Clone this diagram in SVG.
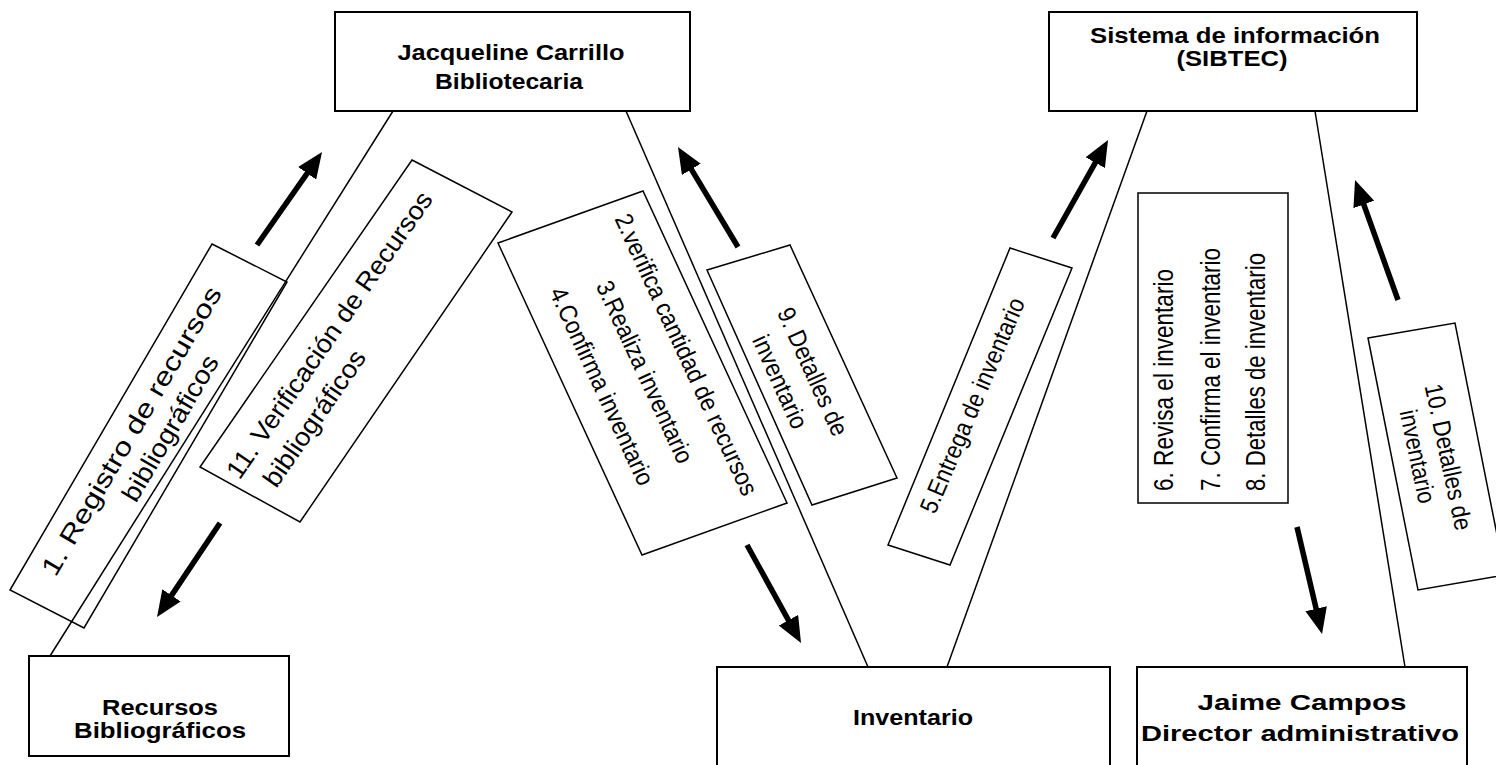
<svg xmlns="http://www.w3.org/2000/svg" width="1496" height="765" viewBox="0 0 1496 765">
  <defs>
    <style>
      .box{fill:#fff;stroke:#000;stroke-width:2}
      .tag{fill:#fff;stroke:#000;stroke-width:1.5}
      .wire{stroke:#000;stroke-width:1.5;fill:none}
      .flow{stroke:#000;stroke-width:5.5;fill:none;marker-end:url(#head)}
      .nt{font-family:"Liberation Sans",Arial,sans-serif;font-weight:bold;font-size:22px;text-anchor:middle;fill:#000}
      .lt{font-family:"Liberation Sans",Arial,sans-serif;text-anchor:middle;fill:#000}
      .st{text-anchor:start}
    </style>
    <marker id="head" viewBox="0 0 10 10" refX="4" refY="5" markerWidth="26" markerHeight="22" markerUnits="userSpaceOnUse" orient="auto" preserveAspectRatio="none">
      <path d="M0,0L10,5L0,10z" fill="#000"/>
    </marker>
  </defs>

  <rect width="1496" height="765" fill="#fff"/>

  <!-- nodes -->
  <g id="bibliotecaria">
    <rect class="box" x="335" y="12" width="355" height="99"/>
    <text class="nt" x="511" y="60" textLength="227" lengthAdjust="spacingAndGlyphs">Jacqueline Carrillo</text>
    <text class="nt" x="509" y="89" textLength="148" lengthAdjust="spacingAndGlyphs">Bibliotecaria</text>
  </g>
  <g id="sibtec">
    <rect class="box" x="1049" y="12" width="368" height="99"/>
    <text class="nt" x="1235" y="43" textLength="290" lengthAdjust="spacingAndGlyphs">Sistema de información</text>
    <text class="nt" x="1232" y="66" textLength="111" lengthAdjust="spacingAndGlyphs">(SIBTEC)</text>
  </g>
  <g id="recursos">
    <rect class="box" x="29" y="656" width="260" height="100"/>
    <text class="nt" x="160" y="715" textLength="116" lengthAdjust="spacingAndGlyphs">Recursos</text>
    <text class="nt" x="160" y="738" textLength="172" lengthAdjust="spacingAndGlyphs">Bibliográficos</text>
  </g>
  <g id="inventario">
    <rect class="box" x="717" y="667" width="393" height="110"/>
    <text class="nt" x="913" y="725" textLength="120" lengthAdjust="spacingAndGlyphs">Inventario</text>
  </g>
  <g id="director">
    <rect class="box" x="1137" y="667" width="330" height="110"/>
    <text class="nt" x="1302" y="710" textLength="209" lengthAdjust="spacingAndGlyphs">Jaime Campos</text>
    <text class="nt" x="1300" y="741" textLength="318" lengthAdjust="spacingAndGlyphs">Director administrativo</text>
  </g>

  <!-- message labels -->
  <g id="msg-registro">
    <polygon class="tag" points="212,244 287,282 84,628 10,590"/>
    <g transform="translate(148,436) rotate(-59.6)">
      <text class="lt" x="-4" y="-8" font-size="26" textLength="330" lengthAdjust="spacingAndGlyphs">1. Registro de recursos</text>
      <text class="lt" x="18" y="24" font-size="26" textLength="165" lengthAdjust="spacingAndGlyphs">bibliográficos</text>
    </g>
  </g>
  <g id="msg-verificacion">
    <polygon class="tag" points="412,160 512,212 300,522 200,467"/>
    <g transform="translate(356,340) rotate(-55.4)">
      <text class="lt st" x="-182" y="-16" font-size="26" textLength="342" lengthAdjust="spacingAndGlyphs">11. Verificación de Recursos</text>
      <text class="lt st" x="-168" y="19" font-size="26" textLength="160" lengthAdjust="spacingAndGlyphs">bibliográficos</text>
    </g>
  </g>
  <g id="msg-inventario">
    <polygon class="tag" points="498,243 643,191 787,503 642,555"/>
    <g transform="translate(642.5,373) rotate(65.2)">
      <text class="lt" x="1.6" y="-39" font-size="25" textLength="307" lengthAdjust="spacingAndGlyphs">2.verifica cantidad de recursos</text>
      <text class="lt" x="0" y="6" font-size="25" textLength="198" lengthAdjust="spacingAndGlyphs">3.Realiza inventario</text>
      <text class="lt" x="-5" y="51" font-size="25" textLength="215" lengthAdjust="spacingAndGlyphs">4.Confirma inventario</text>
    </g>
  </g>
  <g id="msg-detalles9">
    <polygon class="tag" points="707,270 790,245 897,478 812,505"/>
    <g transform="translate(801.5,374.5) rotate(65.7)">
      <text class="lt" x="2" y="-3" font-size="25" textLength="138" lengthAdjust="spacingAndGlyphs">9. Detalles de</text>
      <text class="lt" x="-2" y="31" font-size="25" textLength="100" lengthAdjust="spacingAndGlyphs">inventario</text>
    </g>
  </g>
  <g id="msg-entrega">
    <polygon class="tag" points="1010,248 1072,268 950,565 888,545"/>
    <g transform="translate(980,406.5) rotate(-67)">
      <text class="lt" x="-2" y="1" font-size="25" textLength="231" lengthAdjust="spacingAndGlyphs">5.Entrega de inventario</text>
    </g>
  </g>
  <g id="msg-revision">
    <rect class="tag" x="1138" y="193" width="150" height="310"/>
    <text class="lt st" transform="translate(1173,491) rotate(-90)" font-size="27" textLength="222" lengthAdjust="spacingAndGlyphs">6. Revisa el inventario</text>
    <text class="lt st" transform="translate(1220,491) rotate(-90)" font-size="27" textLength="243" lengthAdjust="spacingAndGlyphs">7. Confirma el inventario</text>
    <text class="lt st" transform="translate(1265,491) rotate(-90)" font-size="27" textLength="238" lengthAdjust="spacingAndGlyphs">8. Detalles de inventario</text>
  </g>
  <g id="msg-detalles10">
    <polygon class="tag" points="1368,338 1455,323 1505,575 1418,590"/>
    <g transform="translate(1436.5,456.5) rotate(78)">
      <text class="lt" x="3" y="-3" font-size="25" textLength="149" lengthAdjust="spacingAndGlyphs">10. Detalles de</text>
      <text class="lt" x="-4" y="27" font-size="25" textLength="95" lengthAdjust="spacingAndGlyphs">inventario</text>
    </g>
  </g>

  <!-- connectors -->
  <g id="connectors">
    <line class="wire" x1="393" y1="111" x2="50" y2="656"/>
    <line class="wire" x1="626" y1="111" x2="868" y2="667"/>
    <line class="wire" x1="1147" y1="111" x2="947" y2="667"/>
    <line class="wire" x1="1315" y1="111" x2="1405" y2="667"/>
    <line class="flow" x1="257" y1="245" x2="313.1" y2="164.8"/>
    <line class="flow" x1="220" y1="523" x2="165.7" y2="604.1"/>
    <line class="flow" x1="738" y1="247" x2="686" y2="160.4"/>
    <line class="flow" x1="747" y1="545" x2="793.5" y2="629.3"/>
    <line class="flow" x1="1053" y1="238" x2="1100.4" y2="153.6"/>
    <line class="flow" x1="1297" y1="527" x2="1318.5" y2="618.8"/>
    <line class="flow" x1="1398" y1="300" x2="1360.3" y2="194.7"/>
  </g>
</svg>
